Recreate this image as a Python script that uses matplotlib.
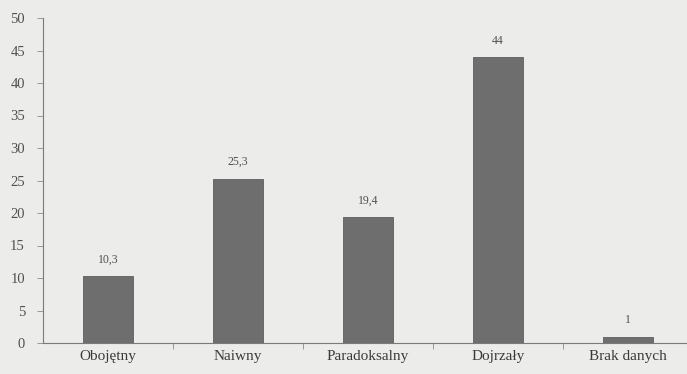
import numpy as np
import matplotlib.pyplot as plt

categories = ['Obojętny', 'Naiwny', 'Paradoksalny', 'Dojrzały', 'Brak danych']
values = [10.3, 25.3, 19.4, 44, 1]
value_labels = ['10,3', '25,3', '19,4', '44', '1']

BG = '#ececea'
BAR = '#6e6e6e'
INK = '#505050'

plt.rcParams['font.family'] = ['Liberation Serif', 'DejaVu Serif']

fig = plt.figure(figsize=(6.87, 3.74), dpi=100, facecolor=BG)
ax = fig.add_axes([43 / 687, 31 / 374, 650 / 687, 325 / 374])
ax.set_facecolor(BG)

x = np.arange(len(categories))
bars = ax.bar(x, values, width=0.39, color=BAR, edgecolor='#5e5e5e', linewidth=0.6)

for rect, lab in zip(bars, value_labels):
    ax.text(rect.get_x() + rect.get_width() / 2, rect.get_height() + 1.6, lab,
            ha='center', va='bottom', fontsize=8.5, color=INK)

ax.set_xlim(-0.5, len(categories) - 0.5)
ax.set_ylim(0, 50)
ax.set_yticks(np.arange(0, 51, 5))
ax.set_xticks(x)
ax.set_xticklabels(categories, fontsize=11, color='#3a3a3a')
ax.set_xticks(x[:-1] + 0.5, minor=True)

ax.tick_params(axis='y', direction='out', length=4, width=0.6, colors='#8a8a8a',
               labelcolor=INK, labelsize=10.5, pad=9)
ax.tick_params(axis='x', which='major', length=0, pad=5)
ax.tick_params(axis='x', which='minor', direction='out', length=4, width=0.6, colors='#8a8a8a')

for side in ['top', 'right']:
    ax.spines[side].set_visible(False)
for side in ['left', 'bottom']:
    ax.spines[side].set_color('#7a7a7a')
    ax.spines[side].set_linewidth(0.8)

fig.savefig('out.png', dpi=100, facecolor=BG)
